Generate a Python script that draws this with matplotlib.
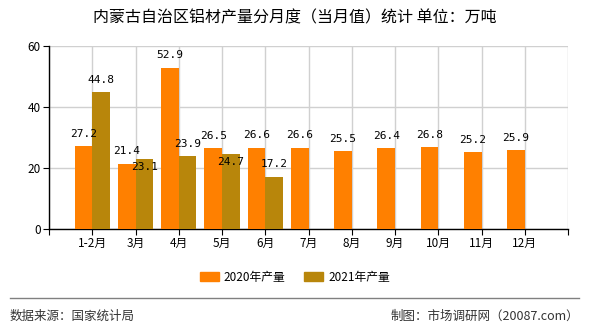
import matplotlib
matplotlib.use('Agg')
import matplotlib.pyplot as plt
from matplotlib.patches import Patch
from matplotlib.lines import Line2D

plt.rcParams['font.family'] = ['Noto Sans CJK SC', 'DejaVu Sans']

months = ['1-2月', '3月', '4月', '5月', '6月', '7月', '8月', '9月', '10月', '11月', '12月']
prod_2020 = [27.2, 21.4, 52.9, 26.5, 26.6, 26.6, 25.5, 26.4, 26.8, 25.2, 25.9]
prod_2021 = [44.8, 23.1, 23.9, 24.7, 17.2]
yticks = [0, 20, 40, 60]

c2020 = '#FF8000'
c2021 = '#B8860B'

fig = plt.figure(figsize=(5.9, 3.3), dpi=100)
ax = fig.add_axes([49 / 590, 1 - 229 / 330, 519 / 590, 183 / 330])

pos = list(range(1, len(months) + 1))
w = 0.41
ax.bar([p - w / 2 for p in pos], prod_2020, width=w, color=c2020, zorder=3)
ax.bar([p + w / 2 for p in pos[:len(prod_2021)]], prod_2021, width=w, color=c2021, zorder=3)

lab_font = dict(family='DejaVu Sans Mono', fontsize=8, ha='center', va='center', zorder=5)
for i, v in enumerate(prod_2020):
    ax.annotate(f'{v}', (pos[i] - w / 2, v), xytext=(0, 9), textcoords='offset points', **lab_font)
for i, v in enumerate(prod_2021):
    dy = 9
    if abs(v - prod_2020[i]) < 3:  # crowded: push label below the top
        dy = -6
    ax.annotate(f'{v}', (pos[i] + w / 2, v), xytext=(0, dy), textcoords='offset points', **lab_font)

ax.set_xlim(0, 12)
ax.set_ylim(0, 60)
ax.set_yticks(yticks)
ax.set_xticks(range(0, 13))
ax.set_xticklabels([''] + months + [''])
ax.tick_params(axis='x', length=4, labelsize=8.5, pad=2)
ax.tick_params(axis='y', length=4, labelsize=8.5, pad=2)
ax.grid(True, color='#d0d0d0', linewidth=1, zorder=0)
for s in ['top', 'right']:
    ax.spines[s].set_visible(False)
ax.spines['left'].set_linewidth(1)
ax.spines['bottom'].set_linewidth(1)

fig.text(0.5, 1 - 18 / 330, '内蒙古自治区铝材产量分月度（当月值）统计 单位：万吨',
         ha='center', va='center', fontsize=11.5)

handles = [Patch(color=c2020), Patch(color=c2021)]
fig.legend(handles, ['2020年产量', '2021年产量'], loc='center', bbox_to_anchor=(0.5, 1 - 277 / 330),
           ncol=2, frameon=False, fontsize=8.5, handlelength=1.6, handleheight=0.7,
           columnspacing=1.6, handletextpad=0.4)

fig.add_artist(Line2D([10 / 590, 579 / 590], [1 - 298 / 330] * 2, transform=fig.transFigure,
                      color='#808080', linewidth=1))
fig.text(10 / 590, 1 - 316 / 330, '数据来源：国家统计局', ha='left', va='center', fontsize=9, color='#333333')
fig.text(579 / 590, 1 - 316 / 330, '制图：市场调研网（20087.com）', ha='right', va='center', fontsize=9,
         color='#333333')

fig.savefig('out.png', dpi=100)
